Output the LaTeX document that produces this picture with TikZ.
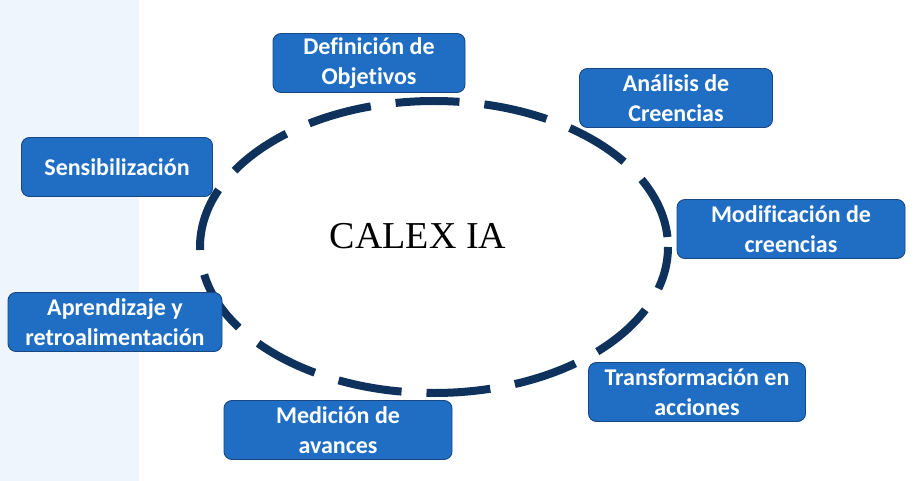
\documentclass[tikz,border=0pt]{standalone}
\usepackage{fontspec}
\setmainfont{Liberation Serif}
\setsansfont{Carlito}[Ligatures=NoCommon]
\usepackage{tikz}
\definecolor{franja}{RGB}{238,245,252}
\definecolor{azulcaja}{RGB}{31,110,196}
\definecolor{bordeazul}{RGB}{24,72,132}
\definecolor{marino}{RGB}{14,50,92}
\tikzset{
  etapa/.style={draw=bordeazul, fill=azulcaja, rounded corners=8pt, line width=0.9pt,
    text=white, font=\sffamily\bfseries\fontsize{24}{30}\selectfont, align=center,
    minimum height=59pt, inner sep=0pt},
  ciclo/.style={draw=marino, line width=8pt, dash pattern=on 64pt off 25pt, dash phase=79pt}
}

\begin{document}
\begin{tikzpicture}[x=1pt,y=-1pt]
  \useasboundingbox (0,0) rectangle (918,481);
  \fill[franja] (0,0) rectangle (139,481);
  % ciclo central
  \draw[ciclo] (434,247) ellipse [x radius=234pt, y radius=146pt];
  \node[font=\fontsize{38}{42}\selectfont] (calex) at (418,236) {CALEX IA};
  % etapas
  \node[etapa, minimum width=192pt] (objetivos) at (369,63) {Definición de\\Objetivos};
  \node[etapa, minimum width=193pt] (creencias) at (676,98) {Análisis de\\Creencias};
  \node[etapa, minimum width=191pt] (sensib) at (117,167) {Sensibilización};
  \node[etapa, minimum width=228pt] (modif) at (791,229) {Modificación de\\creencias};
  \node[etapa, minimum width=214pt] (aprend) at (115,322) {Aprendizaje y\\retroalimentación};
  \node[etapa, minimum width=217pt] (transf) at (697,392) {Transformación en\\acciones};
  \node[etapa, minimum width=228pt] (medicion) at (338,430) {Medición de\\avances};
\end{tikzpicture}
\end{document}
